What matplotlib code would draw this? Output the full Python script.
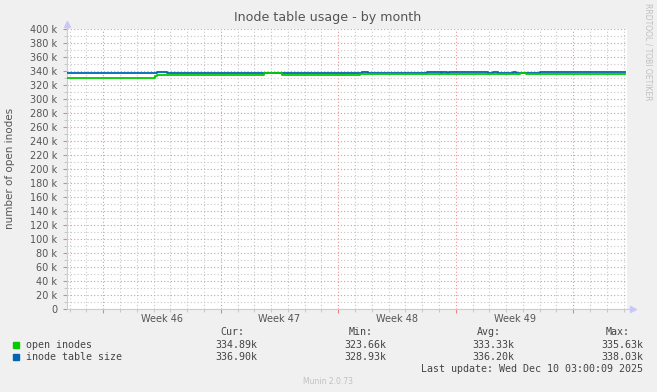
import matplotlib
matplotlib.use("Agg")
import matplotlib.pyplot as plt
from matplotlib.ticker import MultipleLocator, FuncFormatter

# time in days from Monday of week 46; values in thousands of inodes
size_t = [-2.16, 3.2, 3.79, 15.4, 15.8, 19.3, 20.1, 20.2, 20.5, 20.6,
          22.9, 23.2, 23.5, 24.4, 24.6, 26.0, 26.1, 31.1]
size_v = [336.6, 338.0, 336.6, 338.0, 336.6, 338.0, 336.6, 338.0, 336.6, 338.0,
          336.6, 338.0, 336.6, 338.0, 336.6, 338.0, 337.6, 337.6]

open_t = [-2.16, 3.08, 3.2, 3.38, 3.56, 3.79, 9.57, 10.64, 14.4, 14.6,
          15.1, 15.3, 24.8, 25.2, 26.1, 31.1]
open_v = [330.2, 332.0, 334.0, 333.5, 334.0, 333.6, 336.0, 334.2, 333.4, 334.4,
          333.4, 334.6, 336.0, 334.8, 334.9, 334.9]

week_pos = [3.5, 10.5, 17.5, 24.5]
week_labels = ["Week 46", "Week 47", "Week 48", "Week 49"]

legend_names = ["open inodes", "inode table size"]
legend_cur = ["334.89k", "336.90k"]
legend_min = ["323.66k", "328.93k"]
legend_avg = ["333.33k", "336.20k"]
legend_max = ["335.63k", "338.03k"]

green = "#00CC00"
blue = "#0066B3"
bg = "#F0F0F0"
axis_col = "#C8C8F8"

fig = plt.figure(figsize=(6.57, 3.92), dpi=100, facecolor=bg)
ax = fig.add_axes([67 / 657, 1 - 308.7 / 392, 560 / 657, 280 / 392])
ax.set_facecolor("white")

ax.plot(size_t, size_v, drawstyle="steps-post", color=blue, lw=1.3, zorder=3)
ax.plot(open_t, open_v, drawstyle="steps-post", color=green, lw=1.3, zorder=4)

ax.set_xlim(-2.16, 31.2)
ax.set_ylim(0, 400)

ax.xaxis.set_major_locator(MultipleLocator(7))
ax.xaxis.set_minor_locator(MultipleLocator(1))
ax.yaxis.set_major_locator(MultipleLocator(20))
ax.yaxis.set_minor_locator(MultipleLocator(10))
ax.yaxis.set_major_formatter(
    FuncFormatter(lambda v, p: "0" if v == 0 else "%d k" % v))
ax.set_xticklabels([])

ax.grid(which="minor", color="#C8C8C8", ls=(0, (1, 2)), lw=0.8)
ax.grid(which="major", color="#F09090", ls=(0, (1, 2)), lw=0.8)
ax.set_axisbelow(True)

ax.tick_params(axis="both", which="major", length=3, color="#F08080",
               labelsize=7, labelcolor="#555555", pad=4)
ax.tick_params(axis="both", which="minor", length=2, color="#C0C0C0")

for lbl_x, lbl in zip(week_pos, week_labels):
    ax.text(lbl_x, -0.018, lbl, transform=ax.get_xaxis_transform(),
            ha="center", va="top", fontsize=7, color="#555555")

for side in ["top", "right"]:
    ax.spines[side].set_visible(False)
for side in ["left", "bottom"]:
    ax.spines[side].set_color(axis_col)
# axis arrows
ax.plot([-2.16], [406], marker="^", ms=5, color=axis_col, clip_on=False)
ax.plot([31.55], [0], marker=">", ms=5, color=axis_col, clip_on=False)
ax.spines["bottom"].set_bounds(-2.16, 31.55)
ax.spines["left"].set_bounds(0, 406)

fig.text(328 / 657, 1 - 18 / 392, "Inode table usage - by month",
         ha="center", va="center", fontsize=9.1, color="#555555")
fig.text(10 / 657, 1 - 168 / 392, "number of open inodes", rotation=90,
         ha="center", va="center", fontsize=7.5, color="#555555")
fig.text(648 / 657, 1 - 52 / 392, "RRDTOOL / TOBI OETIKER", rotation=270,
         ha="center", va="center", fontsize=5.5, color="#C0C0C0")
fig.text(328 / 657, 1 - 381 / 392, "Munin 2.0.73", ha="center", va="center",
         fontsize=5.5, color="#C0C0C0")

mono = dict(family="DejaVu Sans Mono", fontsize=7.2, color="#444444",
            va="center")
cols = [(244, "Cur:", legend_cur, 257), (373, "Min:", legend_min, 386),
        (501, "Avg:", legend_avg, 514), (630, "Max:", legend_max, 643)]
for hx, head, vals, vx in cols:
    fig.text(hx / 657, 1 - 332 / 392, head, ha="right", **mono)
    for i, v in enumerate(vals):
        fig.text(vx / 657, 1 - (344.7 + 12 * i) / 392, v, ha="right", **mono)
for i, (name, col) in enumerate(zip(legend_names, [green, blue])):
    y = 1 - (344.7 + 12 * i) / 392
    fig.patches.append(plt.Rectangle((13 / 657, y - 3 / 392), 6 / 657, 6 / 392,
                                     transform=fig.transFigure, color=col))
    fig.text(26 / 657, y, name, ha="left", **mono)
fig.text(643 / 657, 1 - 368.7 / 392, "Last update: Wed Dec 10 03:00:09 2025",
         ha="right", **mono)

fig.savefig("out.png", dpi=100, facecolor=bg)
